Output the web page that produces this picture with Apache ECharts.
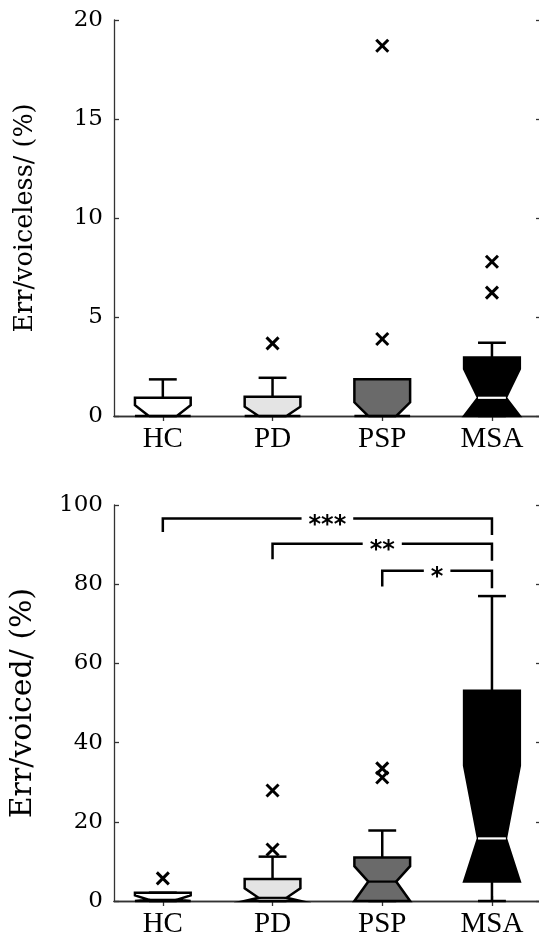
<!DOCTYPE html>
<html>
<head>
<meta charset="utf-8">
<script src="https://cdn.jsdelivr.net/npm/echarts@6/dist/echarts.min.js"></script>
<style>
  html, body { margin: 0; padding: 0; background: #fff; }
  #chart { width: 539px; height: 932px; }
</style>
</head>
<body>
<div id="chart"></div>
<script>
// Groups
const groups = ['HC', 'PD', 'PSP', 'MSA'];

// Voiceless error rate (%) — notched box statistics per group
const voicelessWhiskerLow  = [0, 0, 0, 0];
const voicelessQ1          = [0, 0, 0, 0];
const voicelessNotchLow    = [0, 0, 0, 0];
const voicelessMedian      = [0, 0, 0, 0.92];
const voicelessNotchHigh   = [0.55, 0.47, 0.69, 2.37];
const voicelessQ3          = [0.92, 0.97, 1.85, 2.96];
const voicelessWhiskerHigh = [1.85, 1.93, 1.85, 3.70];
const voicelessOutliers    = [[], [3.67], [3.89, 18.7], [6.23, 7.79]];

// Voiced error rate (%) — notched box statistics per group
const voicedWhiskerLow  = [0, 0, 0, 0];
const voicedQ1          = [0, 0, 0, 4.9];
const voicedNotchLow    = [0, 0, 0, 4.9];
const voicedMedian      = [0.3, 0.8, 4.9, 15.8];
const voicedNotchHigh   = [1.4, 3.2, 8.8, 34.2];
const voicedQ3          = [2.1, 5.55, 11.0, 53.1];
const voicedWhiskerHigh = [2.1, 11.2, 17.8, 77.0];
const voicedOutliers    = [[5.7], [13.0, 27.9], [31.2, 33.5], []];

// Significance brackets (voiced): from group, to group, bar level, left leg end, right leg end
const bracketFrom  = [1, 2, 3];
const bracketTo    = [4, 4, 4];
const bracketTop   = [96.6, 90.2, 83.4];
const bracketLeft  = [93.2, 86.3, 79.4];
const bracketRight = [92.4, 85.9, 79.0];
const bracketStars = ['***', '**', '*'];

// Axis ticks
const voicelessTicks = { min: 0, max: 20, interval: 5 };
const voicedTicks = { min: 0, max: 100, interval: 20 };

const boxFill = ['#ffffff', '#e4e4e4', '#6a6a6a', '#000000'];
const medianColor = ['#000000', '#000000', '#000000', '#ffffff'];

const HALF_W = 0.254;        // box half width in axis units
const NOTCH_W = HALF_W / 2;  // notch waist half width
const CAP_W = HALF_W / 2;    // whisker cap half width
const LINE_W = 2.5;

function boxRows(wl, q1, nl, med, nh, q3, wh) {
  return groups.map((g, i) => [i + 1, wl[i], q1[i], nl[i], med[i], nh[i], q3[i], wh[i], i]);
}
function outlierRows(list) {
  const rows = [];
  list.forEach((vals, i) => vals.forEach(v => rows.push([i + 1, v])));
  return rows;
}

function renderBox(params, api) {
  const x = api.value(0);
  const wl = api.value(1), q1 = api.value(2), nl = api.value(3), med = api.value(4);
  const nh = api.value(5), q3 = api.value(6), wh = api.value(7);
  const k = api.value(8);
  const c = (xv, yv) => api.coord([xv, yv]);
  const stroke = { stroke: '#000', lineWidth: LINE_W, fill: null };
  const seg = (xa, ya, xb, yb, st) => {
    const a = c(xa, ya), b = c(xb, yb);
    return { type: 'line', shape: { x1: a[0], y1: a[1], x2: b[0], y2: b[1] }, style: st };
  };
  const children = [];
  if (wh > q3) children.push(seg(x, q3, x, wh, stroke));
  children.push(seg(x - CAP_W, wh, x + CAP_W, wh, stroke));
  if (q1 > wl) children.push(seg(x, q1, x, wl, stroke));
  children.push(seg(x - CAP_W, wl, x + CAP_W, wl, stroke));
  const pts = [
    c(x - HALF_W, q1), c(x - HALF_W, nl), c(x - NOTCH_W, med), c(x - HALF_W, nh), c(x - HALF_W, q3),
    c(x + HALF_W, q3), c(x + HALF_W, nh), c(x + NOTCH_W, med), c(x + HALF_W, nl), c(x + HALF_W, q1)
  ];
  children.push({ type: 'polygon', shape: { points: pts }, style: { fill: boxFill[k], stroke: '#000', lineWidth: LINE_W, lineJoin: 'miter' } });
  children.push(seg(x - NOTCH_W, med, x + NOTCH_W, med, { stroke: medianColor[k], lineWidth: 2.2 }));
  return { type: 'group', children };
}

function renderCross(params, api) {
  const p = api.coord([api.value(0), api.value(1)]);
  const s = 6;
  const st = { stroke: '#000', lineWidth: 3 };
  return {
    type: 'group', children: [
      { type: 'line', shape: { x1: p[0] - s, y1: p[1] - s, x2: p[0] + s, y2: p[1] + s }, style: st },
      { type: 'line', shape: { x1: p[0] - s, y1: p[1] + s, x2: p[0] + s, y2: p[1] - s }, style: st }
    ]
  };
}

function renderBracket(params, api) {
  const i = params.dataIndex;
  const a = api.value(0), b = api.value(1), top = api.value(2), l = api.value(3), r = api.value(4);
  const p1 = api.coord([a, l]), p2 = api.coord([a, top]), p3 = api.coord([b, top]), p4 = api.coord([b, r]);
  return {
    type: 'group', children: [
      { type: 'polyline', shape: { points: [p1, p2, p3, p4] }, style: { stroke: '#000', lineWidth: LINE_W, fill: null } },
      {
        type: 'text', x: (p2[0] + p3[0]) / 2, y: p2[1] + 7,
        style: {
          text: bracketStars[i], fill: '#000', font: 'bold 24px "DejaVu Sans"',
          align: 'center', verticalAlign: 'middle', backgroundColor: '#fff', padding: [0, 7]
        }
      }
    ]
  };
}

const axisColor = '#333';
const GRID_LEFT = 114, GRID_RIGHT = -2;
const X_MIN = 0.555, X_MAX = 4.447;

function xAxes(gridIndex, labelMargin) {
  const common = {
    gridIndex, type: 'value', min: X_MIN, max: X_MAX,
    splitLine: { show: false },
    axisLine: { show: true, lineStyle: { color: axisColor, width: 1.3 } },
    axisTick: { show: true, inside: true, length: 5, customValues: [1, 2, 3, 4], lineStyle: { color: axisColor, width: 1.3 } }
  };
  return [
    Object.assign({}, common, {
      position: 'bottom',
      axisLabel: {
        customValues: [1, 2, 3, 4],
        formatter: v => groups[Math.round(v) - 1] || '',
        fontFamily: '"Liberation Serif"', fontSize: 29, color: '#000', margin: labelMargin
      }
    }),
    Object.assign({}, common, { position: 'top', axisLabel: { show: false } })
  ];
}

function yAxes(gridIndex, ticks, name, nameSize) {
  const common = {
    gridIndex, type: 'value', min: ticks.min, max: ticks.max, interval: ticks.interval,
    splitLine: { show: false },
    axisLine: { show: true, lineStyle: { color: axisColor, width: 1.3 } },
    axisTick: { show: true, inside: true, length: 5, lineStyle: { color: axisColor, width: 1.3 } }
  };
  return [
    Object.assign({}, common, {
      position: 'left', name, nameLocation: 'middle', nameGap: 76,
      nameTextStyle: { fontFamily: '"DejaVu Serif"', fontSize: nameSize, color: '#000' },
      axisLabel: { fontFamily: '"DejaVu Serif"', fontSize: 23, color: '#000', margin: 11 }
    }),
    Object.assign({}, common, { position: 'right', axisLabel: { show: false } })
  ];
}

const chart = echarts.init(document.getElementById('chart'), null, { renderer: 'canvas' });
chart.setOption({
  backgroundColor: '#fff',
  animation: false,
  grid: [
    { left: GRID_LEFT, right: GRID_RIGHT, top: 20, height: 396, outerBoundsMode: 'none', containLabel: false },
    { left: GRID_LEFT, right: GRID_RIGHT, top: 505, height: 396, outerBoundsMode: 'none', containLabel: false }
  ],
  xAxis: [...xAxes(0, 9), ...xAxes(1, 9)],
  yAxis: [
    ...yAxes(0, voicelessTicks, 'Err/voiceless/ (%)', 25.5),
    ...yAxes(1, voicedTicks, 'Err/voiced/ (%)', 30)
  ],
  series: [
    {
      type: 'custom', xAxisIndex: 0, yAxisIndex: 0, clip: false,
      data: boxRows(voicelessWhiskerLow, voicelessQ1, voicelessNotchLow, voicelessMedian, voicelessNotchHigh, voicelessQ3, voicelessWhiskerHigh),
      renderItem: renderBox
    },
    {
      type: 'custom', xAxisIndex: 0, yAxisIndex: 0, clip: false,
      data: outlierRows(voicelessOutliers), renderItem: renderCross
    },
    {
      type: 'custom', xAxisIndex: 2, yAxisIndex: 2, clip: false,
      data: boxRows(voicedWhiskerLow, voicedQ1, voicedNotchLow, voicedMedian, voicedNotchHigh, voicedQ3, voicedWhiskerHigh),
      renderItem: renderBox
    },
    {
      type: 'custom', xAxisIndex: 2, yAxisIndex: 2, clip: false,
      data: outlierRows(voicedOutliers), renderItem: renderCross
    },
    {
      type: 'custom', xAxisIndex: 2, yAxisIndex: 2, clip: false,
      data: bracketFrom.map((f, i) => [f, bracketTo[i], bracketTop[i], bracketLeft[i], bracketRight[i]]),
      renderItem: renderBracket
    }
  ]
});
</script>
</body>
</html>
